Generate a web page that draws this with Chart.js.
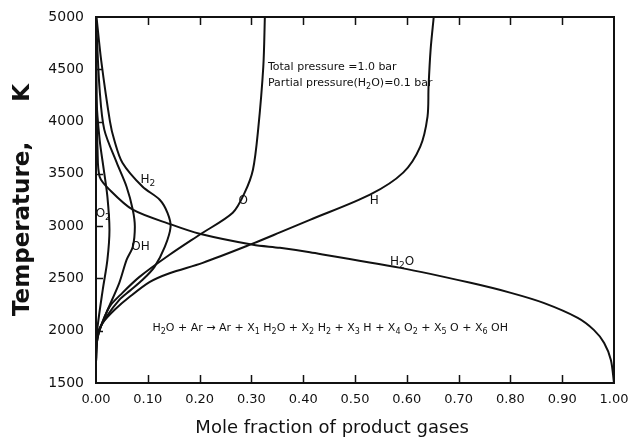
<!DOCTYPE html>
<html>
<head>
<meta charset="utf-8">
<script src="https://cdn.jsdelivr.net/npm/chart.js@4/dist/chart.umd.min.js"></script>
<style>
  html, body { margin: 0; padding: 0; background: #fff; }
  #wrap { width: 630px; height: 440px; }
</style>
</head>
<body>
<div id="wrap"><canvas id="c" width="630" height="440"></canvas></div>
<script>
// Equilibrium composition of dissociated water vapour (in argon) versus temperature.

const tempTicks = [1500, 2000, 2500, 3000, 3500, 4000, 4500, 5000];
const fractionTicks = [0, 0.1, 0.2, 0.3, 0.4, 0.5, 0.6, 0.7, 0.8, 0.9, 1.0];

// Each species: temperature (K) and the matching mole fraction.
const h2oTemp = [1500, 1720, 1883, 2008, 2123, 2266, 2362, 2458, 2601, 2750, 2793, 2822, 2927, 3014, 3157, 3349, 3473, 3732, 4211, 5000];
const h2oFrac = [1.000, 0.994, 0.981, 0.961, 0.930, 0.864, 0.801, 0.723, 0.588, 0.413, 0.355, 0.303, 0.200, 0.146, 0.071, 0.026, 0.007, 0.003, 0.001, 0.000];

const hTemp = [1700, 1864, 1979, 2075, 2200, 2324, 2467, 2550, 2649, 2830, 2940, 3060, 3301, 3512, 3761, 4048, 4335, 4690, 5000];
const hFrac = [0.000, 0.001, 0.005, 0.013, 0.036, 0.065, 0.104, 0.142, 0.206, 0.301, 0.355, 0.413, 0.529, 0.593, 0.626, 0.640, 0.642, 0.646, 0.652];

const oTemp = [1700, 1864, 2008, 2228, 2362, 2515, 2726, 2918, 3128, 3320, 3540, 3923, 4527, 5000];
const oFrac = [0.000, 0.001, 0.007, 0.026, 0.051, 0.084, 0.142, 0.200, 0.264, 0.287, 0.303, 0.313, 0.323, 0.326];

const h2Temp = [1700, 1864, 1979, 2132, 2295, 2381, 2487, 2611, 2803, 2994, 3128, 3253, 3377, 3607, 3828, 4000, 4585, 5000];
const h2Frac = [0.000, 0.001, 0.003, 0.020, 0.045, 0.065, 0.090, 0.113, 0.133, 0.144, 0.138, 0.123, 0.090, 0.051, 0.035, 0.027, 0.010, 0.001];

const ohTemp = [1700, 1864, 1979, 2171, 2458, 2678, 2803, 2994, 3157, 3377, 3607, 3923, 4307, 4881, 5000];
const ohFrac = [0.000, 0.001, 0.005, 0.020, 0.045, 0.059, 0.071, 0.075, 0.071, 0.059, 0.040, 0.016, 0.007, 0.001, 0.000];

const o2Temp = [1700, 1864, 2036, 2391, 2678, 2966, 3282, 3540, 3828, 4211, 5000];
const o2Frac = [0.000, 0.001, 0.003, 0.013, 0.022, 0.026, 0.022, 0.015, 0.007, 0.001, 0.000];

const FONT = '"DejaVu Sans", "Liberation Sans", sans-serif';
const INK = '#111';

function series(temps, fracs) {
  return temps.map((t, i) => ({ x: fracs[i], y: t }));
}

function curve(label, temps, fracs) {
  return {
    label,
    data: series(temps, fracs),
    showLine: true,
    borderColor: INK,
    borderWidth: 2,
    pointRadius: 0,
    tension: 0.3,
    fill: false,
    clip: false
  };
}

// Text with "_x" marking a subscript character.
function parseRich(s) {
  const out = [];
  let buf = '';
  for (let i = 0; i < s.length; i++) {
    if (s[i] === '_' && i + 1 < s.length) {
      if (buf) { out.push({ t: buf, sub: false }); buf = ''; }
      out.push({ t: s[i + 1], sub: true });
      i++;
    } else {
      buf += s[i];
    }
  }
  if (buf) out.push({ t: buf, sub: false });
  return out;
}

function drawRich(ctx, s, x, y, size, align) {
  const segs = parseRich(s);
  const subSize = Math.round(size * 0.75);
  let total = 0;
  segs.forEach(g => {
    ctx.font = (g.sub ? subSize : size) + 'px ' + FONT;
    g.w = ctx.measureText(g.t).width;
    total += g.w;
  });
  let cx = align === 'center' ? x - total / 2 : x;
  ctx.textBaseline = 'middle';
  ctx.textAlign = 'left';
  segs.forEach(g => {
    ctx.font = (g.sub ? subSize : size) + 'px ' + FONT;
    ctx.fillText(g.t, cx, g.sub ? y + size * 0.32 : y);
    cx += g.w;
  });
}

// Curve names and notes, anchored in data coordinates (fraction, temperature).
const notes = [
  { text: 'H_2', x: 0.100, t: 3445, size: 12, align: 'center' },
  { text: 'O_2', x: 0.014, t: 3120, size: 12, align: 'center' },
  { text: 'OH', x: 0.086, t: 2803, size: 12, align: 'center' },
  { text: 'O', x: 0.284, t: 3244, size: 12, align: 'center' },
  { text: 'H', x: 0.537, t: 3244, size: 12, align: 'center' },
  { text: 'H_2O', x: 0.591, t: 2659, size: 12, align: 'center' },
  { text: 'Total pressure =1.0 bar', x: 0.332, t: 4518, size: 11, align: 'left' },
  { text: 'Partial pressure(H_2O)=0.1 bar', x: 0.332, t: 4364, size: 11, align: 'left' },
  { text: 'H_2O + Ar \u2192 Ar + X_1 H_2O + X_2 H_2 + X_3 H + X_4 O_2 + X_5 O + X_6 OH', x: 0.109, t: 2022, size: 11, align: 'left' }
];

const framePlugin = {
  id: 'frame',
  afterDraw(chart) {
    const { ctx, chartArea: a, scales } = chart;
    const xs = scales.x, ys = scales.y;
    ctx.save();
    ctx.strokeStyle = INK;
    ctx.lineWidth = 2;
    ctx.strokeRect(a.left, a.top, a.right - a.left, a.bottom - a.top);
    ctx.beginPath();
    fractionTicks.slice(1, -1).forEach(v => {
      const px = Math.round(xs.getPixelForValue(v)) + 0.5;
      ctx.moveTo(px, a.bottom); ctx.lineTo(px, a.bottom - 8);
      ctx.moveTo(px, a.top); ctx.lineTo(px, a.top + 8);
    });
    tempTicks.slice(1, -1).forEach(v => {
      const py = Math.round(ys.getPixelForValue(v)) + 0.5;
      ctx.moveTo(a.left, py); ctx.lineTo(a.left + 7, py);
    });
    ctx.lineWidth = 1.5;
    ctx.stroke();
    ctx.fillStyle = INK;
    notes.forEach(n => {
      drawRich(ctx, n.text, xs.getPixelForValue(n.x), ys.getPixelForValue(n.t), n.size, n.align);
    });
    ctx.restore();
  }
};

Chart.defaults.font.family = FONT;
Chart.defaults.color = INK;

new Chart(document.getElementById('c'), {
  type: 'scatter',
  data: {
    datasets: [
      curve('H2O', h2oTemp, h2oFrac),
      curve('H', hTemp, hFrac),
      curve('O', oTemp, oFrac),
      curve('H2', h2Temp, h2Frac),
      curve('OH', ohTemp, ohFrac),
      curve('O2', o2Temp, o2Frac)
    ]
  },
  options: {
    responsive: false,
    devicePixelRatio: 1,
    animation: false,
    layout: { padding: { top: 17, right: 16, left: 0, bottom: 0 } },
    plugins: { legend: { display: false }, tooltip: { enabled: false } },
    scales: {
      x: {
        type: 'linear',
        min: 0,
        max: 1,
        grid: { display: false, drawTicks: false },
        border: { display: false },
        afterBuildTicks: s => { s.ticks = fractionTicks.map(v => ({ value: v })); },
        afterFit: s => { s.height = 57; s.paddingLeft = 0; s.paddingRight = 0; },
        ticks: {
          font: { size: 13 },
          color: INK,
          padding: 9,
          maxRotation: 0,
          autoSkip: false,
          callback: v => Number(v).toFixed(2)
        },
        title: {
          display: true,
          text: 'Mole fraction of product gases        ',
          font: { size: 18 },
          color: INK,
          padding: { top: 0, bottom: 1 }
        }
      },
      y: {
        type: 'linear',
        min: 1500,
        max: 5000,
        grid: { display: false, drawTicks: false },
        border: { display: false },
        afterBuildTicks: s => { s.ticks = tempTicks.map(v => ({ value: v })); },
        afterFit: s => { s.width = 96; s.paddingTop = 0; s.paddingBottom = 0; },
        ticks: {
          font: { size: 14 },
          color: INK,
          padding: 12,
          autoSkip: false,
          callback: v => String(v)
        },
        title: {
          display: true,
          text: 'Temperature,     K',
          font: { size: 23, weight: 'bold' },
          color: INK,
          padding: { top: 9, bottom: 0 }
        }
      }
    }
  },
  plugins: [framePlugin]
});
</script>
</body>
</html>
